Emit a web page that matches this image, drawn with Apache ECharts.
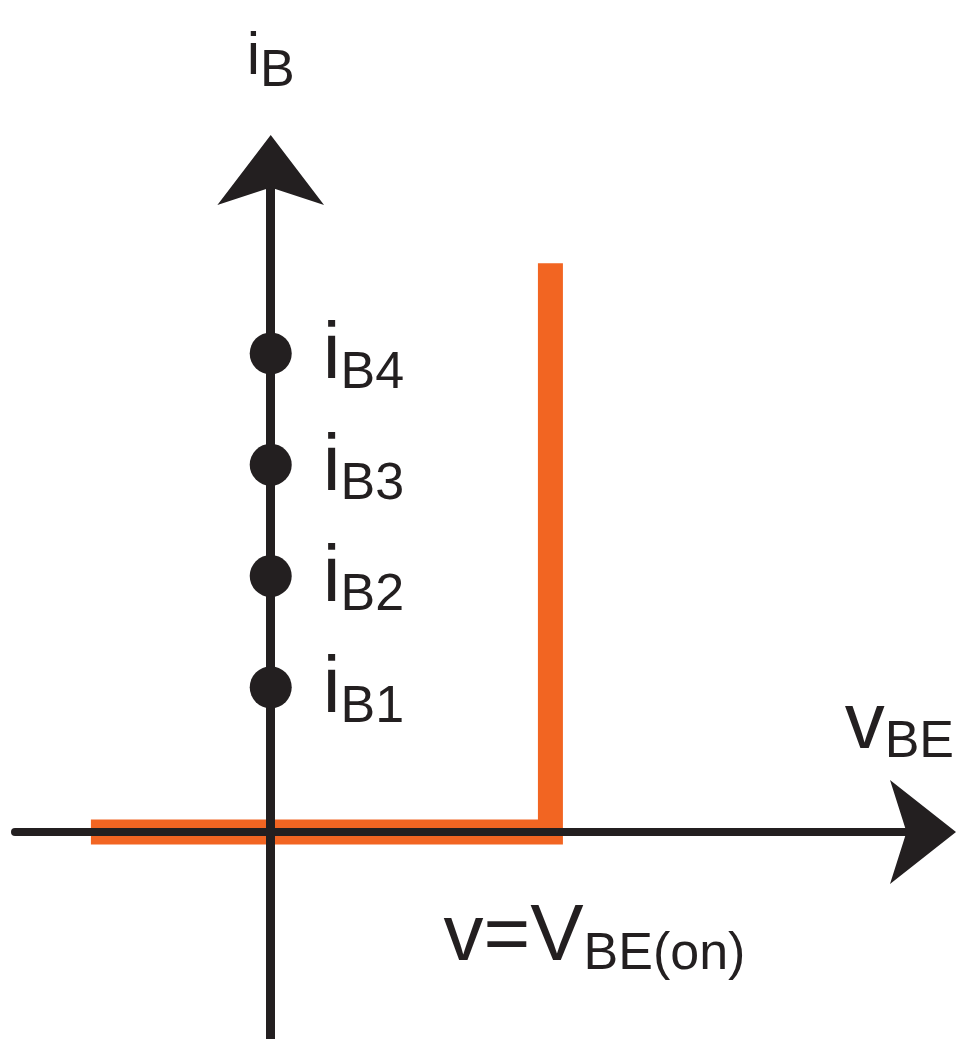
<!DOCTYPE html>
<html>
<head>
<meta charset="utf-8">
<title>iB - vBE</title>
<script src="https://cdn.jsdelivr.net/npm/echarts@6/dist/echarts.min.js"></script>
<style>
  html, body { margin: 0; padding: 0; background: #ffffff; }
  #chart { width: 957px; height: 1039px; }
</style>
</head>
<body>
<div id="chart"></div>
<script>
// input characteristic: iB stays at 0 until vBE reaches VBE(on), then rises straight up
const vOn = 0.7;
const curveV = [-0.45, vOn, vOn];
const curveI = [0, 0, 5.11];

// base current levels marked on the iB axis
const ibLevels = [1.3, 2.3, 3.3, 4.3];
const ibNames = ['B1', 'B2', 'B3', 'B4'];

const ink = '#231f20';
const orange = '#f26522';
const font = '"Liberation Sans", Arial, sans-serif';

const chart = echarts.init(document.getElementById('chart'), null, { renderer: 'canvas' });

const curveData = curveV.map((v, i) => [v, curveI[i]]);
const dotData = ibLevels.map((y, i) => ({ value: [0, y], name: ibNames[i] }));

const subRich = {
    m: { fontSize: 80, fontFamily: font, color: ink, lineHeight: 80, padding: [0, 0, 6, 0] },
    s: { fontSize: 52, fontFamily: font, color: ink, lineHeight: 52, verticalAlign: 'bottom' }
};

const option = {
    animation: false,
    backgroundColor: '#ffffff',
    grid: { left: 15, right: 20, top: 155, bottom: 0, containLabel: false },
    xAxis: {
        type: 'value',
        min: -0.64,
        max: 1.665,
        z: 3,
        name: '{m|v}{s|BE}',
        nameLocation: 'end',
        nameGap: 18,
        nameTextStyle: {
            align: 'right',
            verticalAlign: 'bottom',
            padding: [0, 0, 63, 0],
            rich: subRich
        },
        axisLine: {
            onZero: true,
            symbol: ['none', 'arrow'],
            symbolSize: [78, 66],
            symbolOffset: [0, 20],
            lineStyle: { color: ink, width: 8 }
        },
        axisTick: { show: false },
        axisLabel: { show: false },
        splitLine: { show: false }
    },
    yAxis: {
        type: 'value',
        min: -1.86,
        max: 6.083,
        z: 3,
        name: '{m|i}{s|B}',
        nameLocation: 'end',
        nameGap: 57,
        nameTextStyle: {
            rich: {
                m: { fontSize: 60, fontFamily: font, color: ink, lineHeight: 60, padding: [0, 0, 22, 0] },
                s: { fontSize: 52, fontFamily: font, color: ink, lineHeight: 52, verticalAlign: 'bottom' }
            }
        },
        axisLine: {
            onZero: true,
            symbol: ['none', 'arrow'],
            symbolSize: [80, 70],
            symbolOffset: [0, 20],
            lineStyle: { color: ink, width: 9 }
        },
        axisTick: { show: false },
        axisLabel: { show: false },
        splitLine: { show: false }
    },
    series: [
        {
            name: 'iB-vBE',
            type: 'line',
            z: 2,
            silent: true,
            showSymbol: false,
            data: curveData,
            lineStyle: { color: orange, width: 25, cap: 'butt', join: 'miter' }
        },
        {
            name: 'levels',
            type: 'scatter',
            z: 4,
            silent: true,
            symbol: 'circle',
            symbolSize: 42,
            itemStyle: { color: ink, opacity: 1 },
            data: dotData,
            label: {
                show: true,
                position: 'right',
                distance: 31,
                offset: [0, 6],
                formatter: p => '{m|i}{s|' + p.name + '}',
                rich: subRich
            }
        },
        {
            name: 'von',
            type: 'scatter',
            z: 4,
            silent: true,
            symbolSize: 1,
            itemStyle: { color: 'rgba(0,0,0,0)', opacity: 1 },
            data: [[vOn, 0]],
            label: {
                show: true,
                position: 'bottom',
                distance: 68,
                offset: [44, 0],
                formatter: '{m|v=V}{s|BE(on)}',
                rich: subRich
            }
        }
    ]
};

chart.setOption(option);
</script>
</body>
</html>
